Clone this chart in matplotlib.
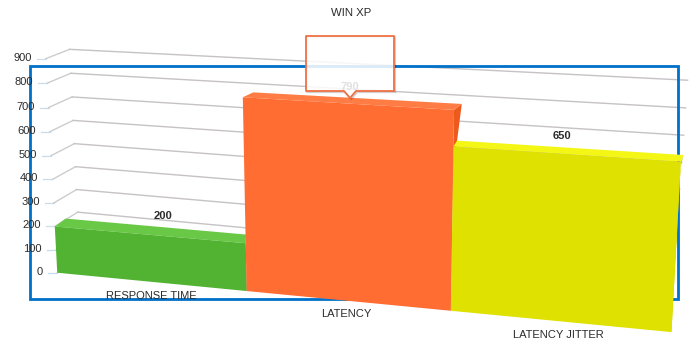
import numpy as np
import matplotlib
matplotlib.use("Agg")
import matplotlib.pyplot as plt
from matplotlib.patches import Polygon, Rectangle
from matplotlib.transforms import Transform

plt.rcParams['font.family'] = ['Liberation Sans', 'DejaVu Sans']

# Chart content
title = "WIN XP"
categories = ["RESPONSE TIME", "LATENCY", "LATENCY JITTER"]
values = [200, 790, 650]
y_ticks = [0, 100, 200, 300, 400, 500, 600, 700, 800, 900]

# Bar colours: front face, top face, side face
front_colors = ["#52b332", "#ff6d33", "#dfe100"]
top_colors = ["#69c947", "#ff7d45", "#f4f716"]
side_colors = ["#3f9a25", "#ee5a1c", "#c8ca00"]


class PlaneProjection(Transform):
    """Perspective map from (category position, value) onto canvas pixels."""
    input_dims = output_dims = 2

    def __init__(self, matrix):
        super().__init__()
        self.matrix = matrix

    def transform_non_affine(self, points):
        pts = np.asarray(points, dtype=float)
        h = np.column_stack([pts, np.ones(len(pts))]) @ self.matrix.T
        return h[:, :2] / h[:, 2:3]


def fit_plane(pairs):
    """Least-squares homography from (u, v) -> (px, py) anchor pairs."""
    rows, rhs = [], []
    for (u, v), (px, py) in pairs:
        v = v / 1000.0
        rows.append([u, v, 1, 0, 0, 0, -u * px, -v * px]); rhs.append(px)
        rows.append([0, 0, 0, u, v, 1, -u * py, -v * py]); rhs.append(py)
    a, b, c, d, e, f, g, h = np.linalg.lstsq(np.array(rows), np.array(rhs), rcond=None)[0]
    return np.array([[a, b / 1000.0, c], [d, e / 1000.0, f], [g, h / 1000.0, 1.0]])


# Perspective planes of the 3D scene: bar fronts, bar backs and the back wall
front_plane = fit_plane([
    ((0, 0), (57, 273)), ((1, 0), (247, 291)), ((2, 0), (450, 310)), ((3, 0), (672, 332)),
    ((0, 200), (55, 227)), ((1, 790), (243, 97)), ((2, 790), (454, 110)),
    ((2, 650), (453, 147)), ((3, 650), (681, 162)), ((0, 900), (46, 58)),
])
back_plane = fit_plane([
    ((0, 200), (66, 219)), ((1, 200), (245, 234)), ((1, 790), (253, 92)),
    ((2, 790), (460, 104)), ((2, 650), (460, 141)), ((3, 650), (683, 155)),
])
wall_plane = fit_plane([
    ((0, 900), (70, 49)), ((0, 800), (71, 73)), ((0, 700), (72, 97)), ((0, 600), (73, 121)),
    ((0, 500), (74, 144)), ((0, 400), (75, 167)), ((0, 300), (77, 189)), ((0, 200), (78, 212)),
    ((3, 900), (687, 81)), ((3, 800), (686, 108)), ((3, 700), (684, 134)), ((3, 200), (674, 268)),
])

fig = plt.figure(figsize=(6.9, 3.42), dpi=100)
ax = fig.add_axes([0, 0, 1, 1])
ax.set_xlim(0, 690)
ax.set_ylim(342, 0)
ax.axis("off")

front_proj = PlaneProjection(front_plane)
back_proj = PlaneProjection(back_plane)
wall_proj = PlaneProjection(wall_plane)
front_t = front_proj + ax.transData
back_t = back_proj + ax.transData
wall_t = wall_proj + ax.transData

# Gridlines: short tick, return to the wall, then across the wall
for tick in y_ticks:
    p_front = front_proj.transform_non_affine([[0, tick]])[0]
    p_wall = wall_proj.transform_non_affine([[0, tick]])[0]
    ax.plot([p_front[0] - 9, p_front[0]], [p_front[1], p_front[1]],
            color="#c9dcee", lw=0.9, zorder=1)
    ax.plot([p_front[0], p_wall[0]], [p_front[1], p_wall[1]],
            color="#cccccc", lw=1.0, zorder=1)
    ax.plot([0, 3], [tick, tick], color="#c6c2c6", lw=1.0, zorder=1, transform=wall_t)
    ax.text(p_front[0] - 14, p_front[1] - 1, str(tick), ha="right", va="center",
            fontsize=8.0, color="#2b2b2b", zorder=6)

# Blue outline sits over the grid and behind the bars
ax.add_patch(Rectangle((30, 66), 647.5, 232.5, fill=False, ec="#0070c8", lw=2.0, zorder=2))

# Bars, left to right so each one overlaps the previous
for i, (val, cf, ct, cs) in enumerate(zip(values, front_colors, top_colors, side_colors)):
    base = 3 + i * 2
    fl, fr = front_proj.transform_non_affine([[i, val], [i + 1, val]])
    bl, br = back_proj.transform_non_affine([[i, val], [i + 1, val]])
    lr = front_proj.transform_non_affine([[i + 1, 0]])[0]
    lb = back_proj.transform_non_affine([[i + 1, 0]])[0]
    ax.add_patch(Polygon([fr, br, lb, lr], closed=True, fc=cs, ec="none", zorder=base))
    ax.add_patch(Polygon([fl, fr, br, bl], closed=True, fc=ct, ec="none", zorder=base))
    ax.add_patch(Polygon([(i, 0), (i + 1, 0), (i + 1, val), (i, val)], closed=True,
                         fc=cf, ec="none", zorder=base + 1, transform=front_t))

# Value labels above each bar
value_label_pos = [(163, 216), (350, 87), (562, 136)]
for val, (px, py) in zip(values, value_label_pos):
    ax.text(px, py, str(val), ha="center", va="center", fontsize=8.0,
            fontweight="bold", color="#2b2b2b", zorder=10)

# Category labels follow the bar bases
label_pos = [(151, 296), (346, 314), (558, 335)]
for name, (px, py) in zip(categories, label_pos):
    ax.text(px, py, name, ha="center", va="center", fontsize=8.0, color="#2b2b2b", zorder=11)

ax.text(351, 13, title, ha="center", va="center", fontsize=8.2, color="#2b2b2b", zorder=11)

# Hover tooltip for the middle bar: an outline shadow, translucent fill and pointer
tip_x = [306, 394, 394, 356, 350, 344, 306]
tip_y = [36, 36, 91, 91, 98, 91, 91]
tip_pts = np.column_stack([tip_x, tip_y])
ax.add_patch(Polygon(tip_pts + 1.2, closed=True, fill=False, ec="#000000", alpha=0.18, lw=1.3,
                     zorder=12))
ax.add_patch(Polygon(tip_pts, closed=True, fc="#ffffff", alpha=0.86, ec="none", zorder=13))
ax.add_patch(Polygon(tip_pts, closed=True, fill=False, ec="#ee7044", lw=1.3,
                     joinstyle="round", zorder=14))

fig.savefig("out.png", dpi=100)
